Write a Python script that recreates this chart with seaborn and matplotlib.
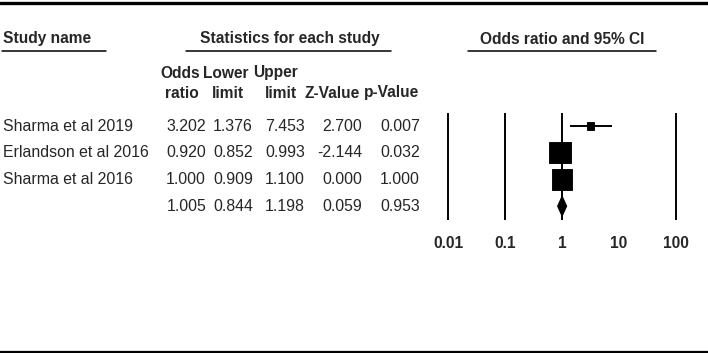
import matplotlib.pyplot as plt
import matplotlib.transforms as mtransforms
from matplotlib.lines import Line2D
import pandas as pd
import seaborn as sns

# Study data
studies = ['Sharma et al 2019', 'Erlandson et al 2016', 'Sharma et al 2016', '']
odds_ratio = [3.202, 0.920, 1.000, 1.005]
lower_limit = [1.376, 0.852, 0.909, 0.844]
upper_limit = [7.453, 0.993, 1.100, 1.198]
z_value = [2.700, -2.144, 0.000, 0.059]
p_value = [0.007, 0.032, 1.000, 0.953]

tick_values = [0.01, 0.1, 1, 10, 100]
tick_labels = ['0.01', '0.1', '1', '10', '100']
ref_lines = [0.01, 0.1, 1, 100]

sns.set_style('white')
plt.rcParams['font.family'] = ['Liberation Sans', 'DejaVu Sans']
FS = 11.2
FS_REG = 11.4

W, H = 708, 353
fig = plt.figure(figsize=(W / 100, H / 100), dpi=100)


def fx(px):
    return px / W


def fy(py):
    return 1 - py / H


df = pd.DataFrame({'study': studies, 'or': odds_ratio, 'lo': lower_limit,
                   'hi': upper_limit, 'row': range(len(studies))})
single = df.iloc[:3]
pooled = df.iloc[3]

# forest plot axes (log scale), 0.01 at x=448px, 100 at x=676px
dec = (676 - 448) / 4
left = 448 - 0.1 * dec
right = 676 + 0.1 * dec
ax = fig.add_axes([fx(left), fy(219.5), fx(right - left), fy(112.7) - fy(219.5)])
ax.set_xscale('log')
ax.set_xlim(10 ** -2.1, 10 ** 2.1)
ax.set_ylim(3.5, -0.5)

for v in ref_lines:
    ax.axvline(v, color='black', lw=1.4, zorder=1)

ax.hlines(single['row'], single['lo'], single['hi'], color='black', lw=1.4, zorder=2)
box_sizes = {studies[0]: 28, studies[1]: 235, studies[2]: 215}
sns.scatterplot(data=single, x='or', y='row', size='study', sizes=box_sizes,
                marker='s', color='black', edgecolor='black', legend=False,
                ax=ax, zorder=3)

r = pooled['row']
h = 0.36
ax.fill([pooled['lo'], pooled['or'], pooled['hi'], pooled['or']],
        [r, r - h, r, r + h], color='black', zorder=3)

ax.set_xticks(tick_values)
ax.set_xticklabels(tick_labels, fontsize=FS, fontweight='bold')
ax.tick_params(axis='x', which='both', length=0, pad=12)
ax.minorticks_off()
ax.set_yticks([])
ax.set_xlabel('')
ax.set_ylabel('')
for s in ax.spines.values():
    s.set_visible(False)
ax.patch.set_alpha(0)

# table text, rows tied to the forest axes y data
trans = mtransforms.blended_transform_factory(fig.transFigure, ax.transData)
cols = [odds_ratio, lower_limit, upper_limit, z_value, p_value]
col_right = [206, 253, 305, 362, 420]
for i, name in enumerate(studies):
    fig.text(fx(3), i, name, transform=trans, ha='left', va='center', fontsize=FS_REG)
    for vals, xr in zip(cols, col_right):
        fig.text(fx(xr), i, f'{vals[i]:.3f}', transform=trans, ha='right',
                 va='center', fontsize=FS_REG)

# column headers
headers = [('Odds', 'ratio', 180, 181.5), ('Lower', 'limit', 225.5, 227.5),
           ('Upper', 'limit', 275.5, 280.5), ('', 'Z-Value', 0, 332),
           ('', 'p-Value', 0, 392)]
for top, bottom, x1, x2 in headers:
    if top:
        fig.text(fx(x1), fy(73), top, ha='center', va='center', fontsize=FS,
                 fontweight='bold')
    fig.text(fx(x2), fy(93), bottom, ha='center', va='center', fontsize=FS,
             fontweight='bold')

# section headers with underlines
sections = [('Study name', 3, 'left', 2, 106),
            ('Statistics for each study', 289.5, 'center', 186, 391),
            ('Odds ratio and 95% CI', 562, 'center', 468, 656)]
for label, x, ha, u0, u1 in sections:
    fig.text(fx(x), fy(39), label, ha=ha, va='center', fontsize=FS, fontweight='bold')
    fig.add_artist(Line2D([fx(u0), fx(u1)], [fy(50.5), fy(50.5)], color='black', lw=1.1))

fig.add_artist(Line2D([0, 1], [fy(2.5), fy(2.5)], color='black', lw=2.4))
fig.add_artist(Line2D([0, 1], [fy(351.5), fy(351.5)], color='black', lw=1.6))

fig.savefig('out.png', dpi=100)
